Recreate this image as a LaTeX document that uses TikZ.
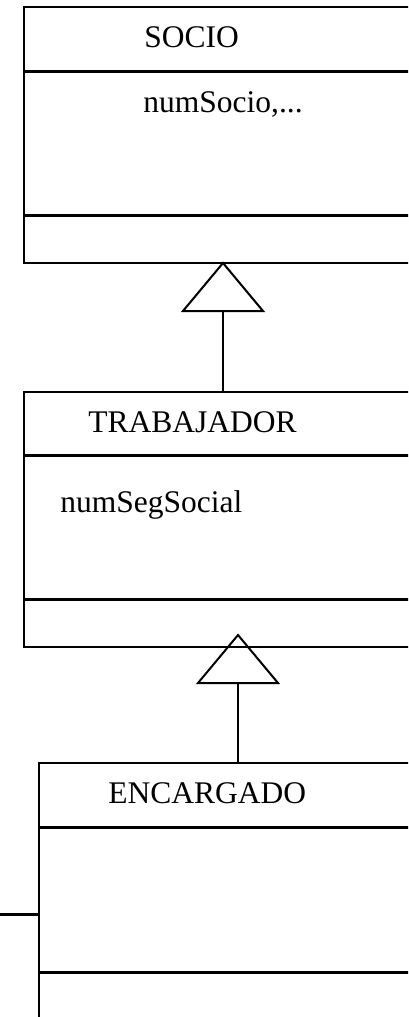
\documentclass[tikz,border=0pt]{standalone}
\usepackage{fontspec}
\setmainfont{Liberation Serif}
\usetikzlibrary{positioning}
\tikzset{
  classbox/.style={line width=1pt},
  divider/.style={line width=1.5pt},
  classtext/.style={anchor=base west,inner sep=0pt,font=\fontsize{15.75}{18}\selectfont},
  inherit/.style={line width=1pt,line join=miter}
}
\def\rgt{420}
\def\thalf{40}
\def\theight{48}

\begin{document}
\begin{tikzpicture}[x=0.5pt,y=-0.5pt]
  \useasboundingbox (0,0) rectangle (408,1017);
  \clip (0,0) rectangle (408,1017);

  % Socio
  \draw[classbox] (24,7) rectangle (\rgt,263);
  \draw[divider] (24,71) -- (\rgt,71);
  \draw[divider] (24,215) -- (\rgt,215);
  \coordinate (socio-bot) at (223,263);
  \node[classtext] at (144,47) (socio) {SOCIO};
  \node[classtext] at (143,112) (socio-att) {numSocio,...};

  % Trabajador
  \draw[classbox] (24,392) rectangle (\rgt,647);
  \draw[divider] (24,455) -- (\rgt,455);
  \draw[divider] (24,599) -- (\rgt,599);
  \coordinate (trab-top) at (223,392);
  \coordinate (trab-bot) at (238,635);
  \node[classtext] at (88,432) (trab) {TRABAJADOR};
  \node[classtext] at (60,512) (trab-att) {numSegSocial};

  % Encargado
  \draw[classbox] (39,1030) -- (39,763) -- (\rgt,763);
  \draw[divider] (39,827) -- (\rgt,827);
  \draw[divider] (39,972) -- (\rgt,972);
  \coordinate (enc-top) at (238,763);
  \coordinate (enc-side) at (39,914);
  \coordinate (enc-in) at (0,914);
  \node[classtext] at (108,803) (enc) {ENCARGADO};
  \draw[divider] (enc-in) -- (enc-side);

  % Inheritance
  \coordinate (t1) at (223,311);
  \coordinate (t2) at (238,683);
  \draw[inherit] (socio-bot) -- ++(-\thalf,\theight) -- ++(2*\thalf,0) -- cycle;
  \draw[inherit] (t1) -- (trab-top);
  \draw[inherit] (trab-bot) -- ++(-\thalf,\theight) -- ++(2*\thalf,0) -- cycle;
  \draw[inherit] (t2) -- (enc-top);
\end{tikzpicture}
\end{document}
